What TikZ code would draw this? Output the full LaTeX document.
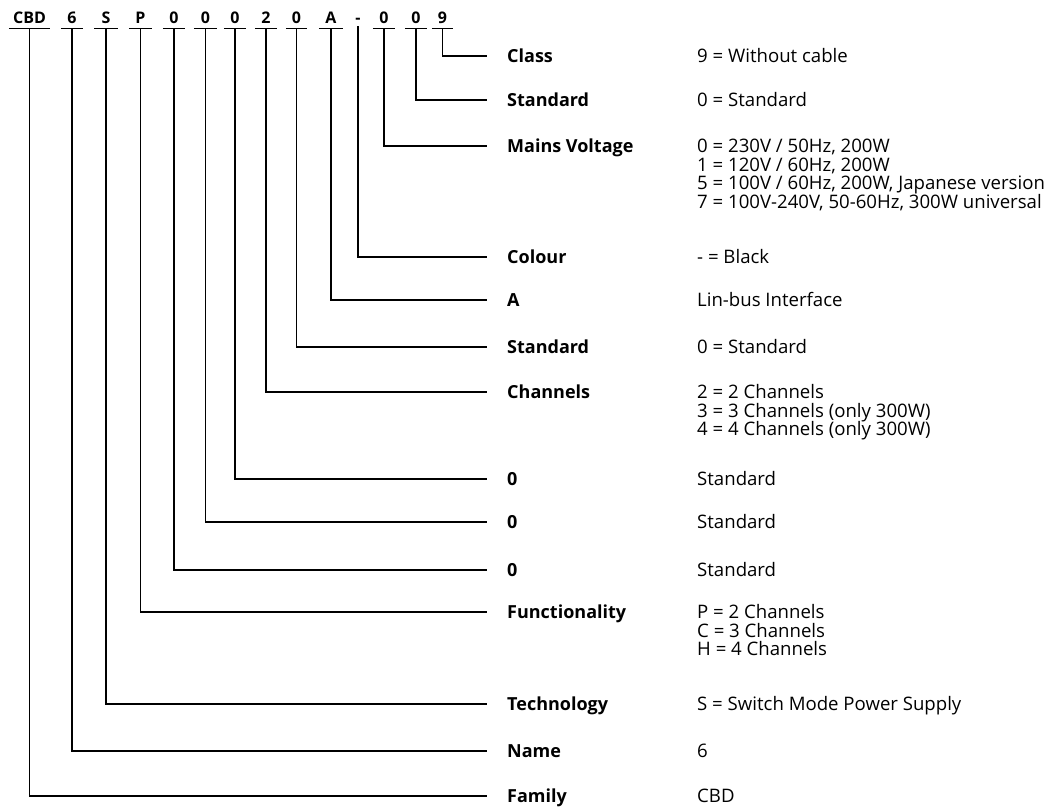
\documentclass[tikz,border=0pt]{standalone}
\usepackage{fontspec}
\setmainfont{Open Sans}
\newcommand{\vlist}[1]{\vtop{\baselineskip=18.5pt\lineskiplimit=-30pt\lineskip=0pt\halign{##\hfil\cr#1\crcr}}}
\begin{document}
\begin{tikzpicture}[x=1pt,y=-1pt,
  codechar/.style={anchor=base, font=\fontsize{16}{18}\selectfont\bfseries, inner xsep=0pt, inner ysep=0pt, text height=11pt, text depth=5pt},
  uline/.style={append after command={(\tikzlastnode.south west) edge[line width=1.1pt] (\tikzlastnode.south east)}},
  lab/.style={anchor=west, font=\fontsize{18}{18.5}\selectfont\bfseries, inner xsep=20pt, inner ysep=0pt, text height=12.85pt, text depth=0pt},
  val/.style={anchor=base west, font=\fontsize{18.6}{18.5}\selectfont, inner sep=0pt},
  conn/.style={line width=1.1pt}]
\useasboundingbox (0,0) rectangle (1056,807);
% code characters
\node[codechar, uline, minimum width=41pt] (cCBD) at (29.5,23) {CBD};
\node[codechar, uline, minimum width=22pt] (c6) at (72,23) {6};
\node[codechar, uline, minimum width=23pt] (cS) at (106,23) {S};
\node[codechar, uline, minimum width=23pt] (cP) at (140.5,23) {P};
\node[codechar, uline, minimum width=22pt] (cz1) at (174,23) {0};
\node[codechar, uline, minimum width=23pt] (cz2) at (205.5,23) {0};
\node[codechar, uline, minimum width=22pt] (cz3) at (235,23) {0};
\node[codechar, uline, minimum width=22pt] (c2) at (266,23) {2};
\node[codechar, uline, minimum width=21pt] (cz4) at (296.5,23) {0};
\node[codechar, uline, minimum width=24pt] (cA) at (331,23) {A};
\node[codechar, minimum width=10pt] (cdash) at (358,23) {-};
\node[codechar, uline, minimum width=22pt] (cz5) at (384,23) {0};
\node[codechar, uline, minimum width=22pt] (cz6) at (416,23) {0};
\node[codechar, uline, minimum width=21pt] (c9) at (442.5,23) {9};
% labels
\node[lab] (lClass) at (487,56) {Class};
\node[lab] (lStd1) at (487,100) {Standard};
\node[lab] (lMains) at (487,146) {Mains Voltage};
\node[lab] (lColour) at (487,257) {Colour};
\node[lab] (lA) at (487,300) {A};
\node[lab] (lStd2) at (487,347) {Standard};
\node[lab] (lChan) at (487,392) {Channels};
\node[lab] (lZ1) at (487,479) {0};
\node[lab] (lZ2) at (487,522) {0};
\node[lab] (lZ3) at (487,570) {0};
\node[lab] (lFunc) at (487,612) {Functionality};
\node[lab] (lTech) at (487,704) {Technology};
\node[lab] (lName) at (487,751) {Name};
\node[lab] (lFam) at (487,796) {Family};
% values
\node[val] (vClass) at (697,62.7) {\vlist{9 = Without cable}};
\node[val] (vStd1) at (697,106.7) {\vlist{0 = Standard}};
\node[val] (vMains) at (697,152.7) {\vlist{0 = 230V / 50Hz, 200W\cr 1 = 120V / 60Hz, 200W\cr 5 = 100V / 60Hz, 200W, Japanese version\cr 7 = 100V-240V, 50-60Hz, 300W universal}};
\node[val] (vColour) at (697,263.7) {\vlist{- = Black}};
\node[val] (vA) at (697,306.7) {\vlist{Lin-bus Interface}};
\node[val] (vStd2) at (697,353.7) {\vlist{0 = Standard}};
\node[val] (vChan) at (697,398.7) {\vlist{2 = 2 Channels\cr 3 = 3 Channels (only 300W)\cr 4 = 4 Channels (only 300W)}};
\node[val] (vZ1) at (697,485.7) {\vlist{Standard}};
\node[val] (vZ2) at (697,528.7) {\vlist{Standard}};
\node[val] (vZ3) at (697,576.7) {\vlist{Standard}};
\node[val] (vFunc) at (697,618.7) {\vlist{P = 2 Channels\cr C = 3 Channels\cr H = 4 Channels}};
\node[val] (vTech) at (697,710.7) {\vlist{S = Switch Mode Power Supply}};
\node[val] (vName) at (697,757.7) {\vlist{6}};
\node[val] (vFam) at (697,802.7) {\vlist{CBD}};
% connectors
\draw[conn] (c9.south) |- (lClass.west);
\draw[conn] (cz6.south) |- (lStd1.west);
\draw[conn] (cz5.south) |- (lMains.west);
\draw[conn] ([yshift=2pt]cdash.south) |- (lColour.west);
\draw[conn] (cA.south) |- (lA.west);
\draw[conn] (cz4.south) |- (lStd2.west);
\draw[conn] (c2.south) |- (lChan.west);
\draw[conn] (cz3.south) |- (lZ1.west);
\draw[conn] (cz2.south) |- (lZ2.west);
\draw[conn] (cz1.south) |- (lZ3.west);
\draw[conn] (cP.south) |- (lFunc.west);
\draw[conn] (cS.south) |- (lTech.west);
\draw[conn] (c6.south) |- (lName.west);
\draw[conn] (cCBD.south) |- (lFam.west);
\end{tikzpicture}
\end{document}
